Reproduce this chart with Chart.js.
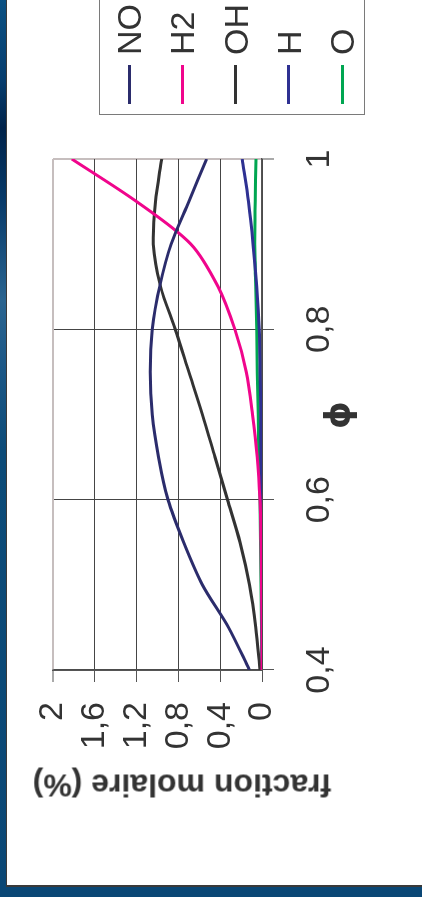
<!DOCTYPE html>
<html>
<head>
<meta charset="utf-8">
<script src="https://cdn.jsdelivr.net/npm/chart.js@4.4.1/dist/chart.umd.min.js"></script>
<style>
  html, body { margin: 0; padding: 0; width: 422px; height: 897px; overflow: hidden; }
  body {
    position: relative;
    background: linear-gradient(to bottom, #0b5183 0px, #063d6e 80px, #00234a 128px, #073a69 200px,
      #2a6490 300px, #1b5786 370px, #0c4b78 450px, #0a4775 897px);
  }
  #panel {
    position: absolute; left: 6px; top: 0; width: 415px; height: 885px;
    background: #fff; border-left: 1px solid #3a3a3a; border-bottom: 2px solid #3a3a3a;
  }
  /* the chart is laid out landscape, then turned a quarter turn counter-clockwise */
  #stage {
    position: absolute; left: 0; top: 0; width: 897px; height: 422px;
    transform-origin: 0 0; transform: translateY(897px) rotate(-90deg);
    overflow: hidden;
  }
  #chart { position: absolute; left: 0; top: 0; }
  .title {
    position: absolute; color: #333; white-space: nowrap;
    font-family: "Liberation Sans", Arial, sans-serif; font-weight: bold;
  }
  #ytitle { left: 112px; top: 182px; font-size: 32px; transform: translate(-50%, -50%) rotate(-90deg); }
  #xtitle { left: 482px; top: 338px; font-size: 35px; font-family: "DejaVu Sans", sans-serif; transform: translate(-50%, -50%); }
  #legend {
    position: absolute; left: 782px; top: 99px; width: 150px; height: 266px;
    border: 1.5px solid #7a7a7a; background: #fff; box-sizing: border-box;
  }
  .item { position: absolute; left: 0; height: 40px; width: 150px; }
  .swatch { position: absolute; left: 10px; top: 18.5px; width: 39px; height: 3px; }
  .label {
    position: absolute; left: 59px; top: 0; line-height: 40px; font-size: 34px; color: #333;
    font-family: "Liberation Sans", Arial, sans-serif;
  }
</style>
</head>
<body>
<div id="panel"></div>
<div id="stage">
  <canvas id="chart" width="897" height="422"></canvas>
  <div id="ytitle" class="title">fraction molaire (%)</div>
  <div id="xtitle" class="title">ϕ</div>
  <div id="legend"></div>
</div>
<script>
// equivalence ratio
const phi = [0.40, 0.45, 0.50, 0.55, 0.60, 0.65, 0.70, 0.75, 0.80, 0.85, 0.90, 0.95, 1.00];

// mole fractions (%)
const NO = [0.12, 0.32, 0.57, 0.75, 0.90, 0.99, 1.05, 1.07, 1.05, 0.98, 0.87, 0.70, 0.53];
const H2 = [0.00, 0.00, 0.005, 0.01, 0.02, 0.045, 0.09, 0.15, 0.26, 0.42, 0.68, 1.20, 1.82];
const OH = [0.02, 0.06, 0.12, 0.21, 0.33, 0.45, 0.57, 0.70, 0.83, 0.97, 1.04, 1.02, 0.96];
const H  = [0.00, 0.001, 0.002, 0.004, 0.006, 0.009, 0.013, 0.018, 0.026, 0.05, 0.085, 0.13, 0.19];
const O  = [0.00, 0.005, 0.01, 0.015, 0.02, 0.03, 0.035, 0.045, 0.05, 0.06, 0.07, 0.065, 0.057];

const seriesNames = ['NO', 'H2', 'OH', 'H', 'O'];
const seriesValues = [NO, H2, OH, H, O];
const seriesColors = ['#2b2c6c', '#f0058c', '#333333', '#2e3192', '#00a651'];

// axis ticks
const phiTickValues = [0.4, 0.6, 0.8, 1.0];
const phiTickLabels = ['0,4', '0,6', '0,8', '1'];
const fracTickValues = [0, 0.4, 0.8, 1.2, 1.6, 2];
const fracTickLabels = ['0', '0,4', '0,8', '1,2', '1,6', '2'];

const gridDark = '#454545';
const frameLight = '#c6bebe';

Chart.defaults.font.family = '"Liberation Sans", Arial, sans-serif';
Chart.defaults.font.size = 34;
Chart.defaults.color = '#333';

const datasets = seriesNames.map((name, i) => ({
  label: name,
  data: phi.map((p, k) => ({ x: p, y: seriesValues[i][k] })),
  borderColor: seriesColors[i],
  borderWidth: 3,
  pointRadius: 0,
  tension: 0.3,
  fill: false
}));

const chart = new Chart(document.getElementById('chart'), {
  type: 'line',
  data: { datasets },
  options: {
    responsive: false,
    animation: false,
    layout: { padding: { top: 53, right: 159, left: 0, bottom: 0 } },
    plugins: { legend: { display: false }, tooltip: { enabled: false } },
    scales: {
      x: {
        type: 'linear',
        min: 0.4, max: 1.0,
        afterBuildTicks: s => { s.ticks = phiTickValues.map(v => ({ value: v })); },
        afterFit: s => { s.height = 160; },
        ticks: { padding: 25, maxRotation: 0, autoSkip: false,
                 callback: (v, i) => phiTickLabels[i] },
        grid: {
          color: c => (c.tick && c.tick.value > 0.99) ? frameLight : gridDark,
          lineWidth: c => (c.tick && c.tick.value > 0.99) ? 2 : 1,
          tickLength: 12, tickColor: '#555', tickWidth: 1
        },
        border: { color: '#555', width: 1.5 }
      },
      y: {
        type: 'linear',
        min: 0, max: 2,
        afterBuildTicks: s => { s.ticks = fracTickValues.map(v => ({ value: v })); },
        afterFit: s => { s.width = 227; },
        ticks: { padding: 20, autoSkip: false,
                 callback: (v, i) => fracTickLabels[i] },
        grid: {
          color: c => (c.tick && c.tick.value > 1.99) ? frameLight : gridDark,
          lineWidth: c => (c.tick && c.tick.value > 1.99) ? 2 : 1,
          tickLength: 12, tickColor: '#555', tickWidth: 1
        },
        border: { color: '#555', width: 1.5 }
      }
    }
  }
});

// legend box built from the chart's datasets
const legendBox = document.getElementById('legend');
chart.data.datasets.forEach((ds, i) => {
  const item = document.createElement('div');
  item.className = 'item';
  item.style.top = (9 + i * 53.25) + 'px';
  const sw = document.createElement('div');
  sw.className = 'swatch';
  sw.style.background = ds.borderColor;
  const lb = document.createElement('span');
  lb.className = 'label';
  lb.textContent = ds.label;
  item.appendChild(sw);
  item.appendChild(lb);
  legendBox.appendChild(item);
});
</script>
</body>
</html>
